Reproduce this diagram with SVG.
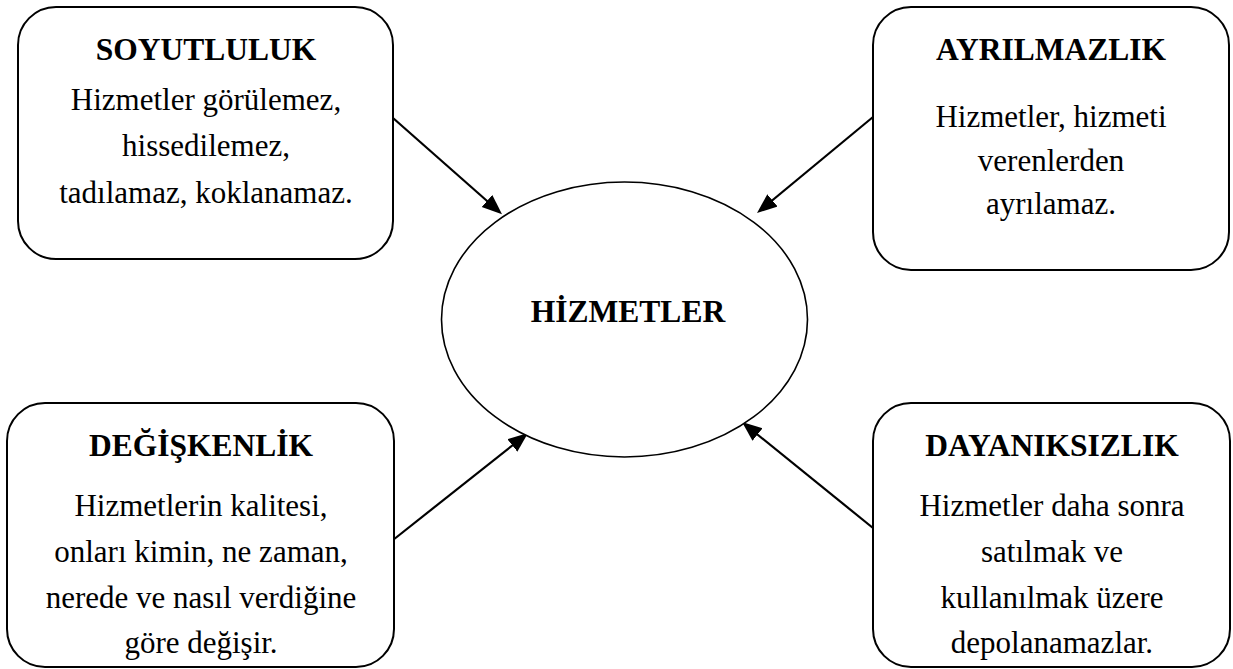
<svg xmlns="http://www.w3.org/2000/svg" width="1233" height="669" viewBox="0 0 1233 669">
<style>
.box{fill:#fff;stroke:#000;stroke-width:2}
.ell{fill:#fff;stroke:#000;stroke-width:1.6}
.t{font-family:"Liberation Serif","Times New Roman",serif;font-weight:bold;font-size:31.5px;text-anchor:middle;fill:#000}
.b{font-family:"Liberation Serif","Times New Roman",serif;font-size:31px;text-anchor:middle;fill:#000}
.c{stroke:#000;stroke-width:2.2;fill:none;marker-end:url(#ah)}
</style>
<defs>
<marker id="ah" markerUnits="userSpaceOnUse" markerWidth="24" markerHeight="18" refX="16" refY="8" orient="auto">
<path d="M0,0 L20,8 L0,16 z" fill="#000"/>
</marker>
</defs>
<rect width="1233" height="669" fill="#fff"/>
<g id="connectors">
<line class="c" x1="393" y1="118" x2="499" y2="211.5"/>
<line class="c" x1="873" y1="117" x2="760.1" y2="210.5"/>
<line class="c" x1="393" y1="540" x2="524.9" y2="435.5"/>
<line class="c" x1="873" y1="528" x2="745.1" y2="424.5"/>
</g>
<g id="soyutluluk">
<rect class="box" x="18" y="7" width="375" height="252" rx="38" ry="38"/>
<text class="t" x="206" y="60">SOYUTLULUK</text>
<text class="b" x="206" y="110">Hizmetler görülemez,</text>
<text class="b" x="206" y="156">hissedilemez,</text>
<text class="b" x="206" y="203">tadılamaz, koklanamaz.</text>
</g>
<g id="ayrilmazlik">
<rect class="box" x="873" y="7" width="356" height="263" rx="38" ry="38"/>
<text class="t" x="1051" y="60">AYRILMAZLIK</text>
<text class="b" x="1051" y="127">Hizmetler, hizmeti</text>
<text class="b" x="1051" y="171">verenlerden</text>
<text class="b" x="1051" y="214">ayrılamaz.</text>
</g>
<g id="hizmetler">
<ellipse class="ell" cx="624.5" cy="319.5" rx="183" ry="137.5"/>
<text class="t" x="628" y="322">HİZMETLER</text>
</g>
<g id="degiskenlik">
<rect class="box" x="7" y="403" width="387" height="264" rx="38" ry="38"/>
<text class="t" x="201" y="456">DEĞİŞKENLİK</text>
<text class="b" x="201" y="516">Hizmetlerin kalitesi,</text>
<text class="b" x="201" y="562">onları kimin, ne zaman,</text>
<text class="b" x="201" y="608">nerede ve nasıl verdiğine</text>
<text class="b" x="201" y="653">göre değişir.</text>
</g>
<g id="dayaniksizlik">
<rect class="box" x="873" y="403" width="357" height="264" rx="38" ry="38"/>
<text class="t" x="1052" y="456">DAYANIKSIZLIK</text>
<text class="b" x="1052" y="516">Hizmetler daha sonra</text>
<text class="b" x="1052" y="562">satılmak ve</text>
<text class="b" x="1052" y="608">kullanılmak üzere</text>
<text class="b" x="1052" y="653">depolanamazlar.</text>
</g>
</svg>
